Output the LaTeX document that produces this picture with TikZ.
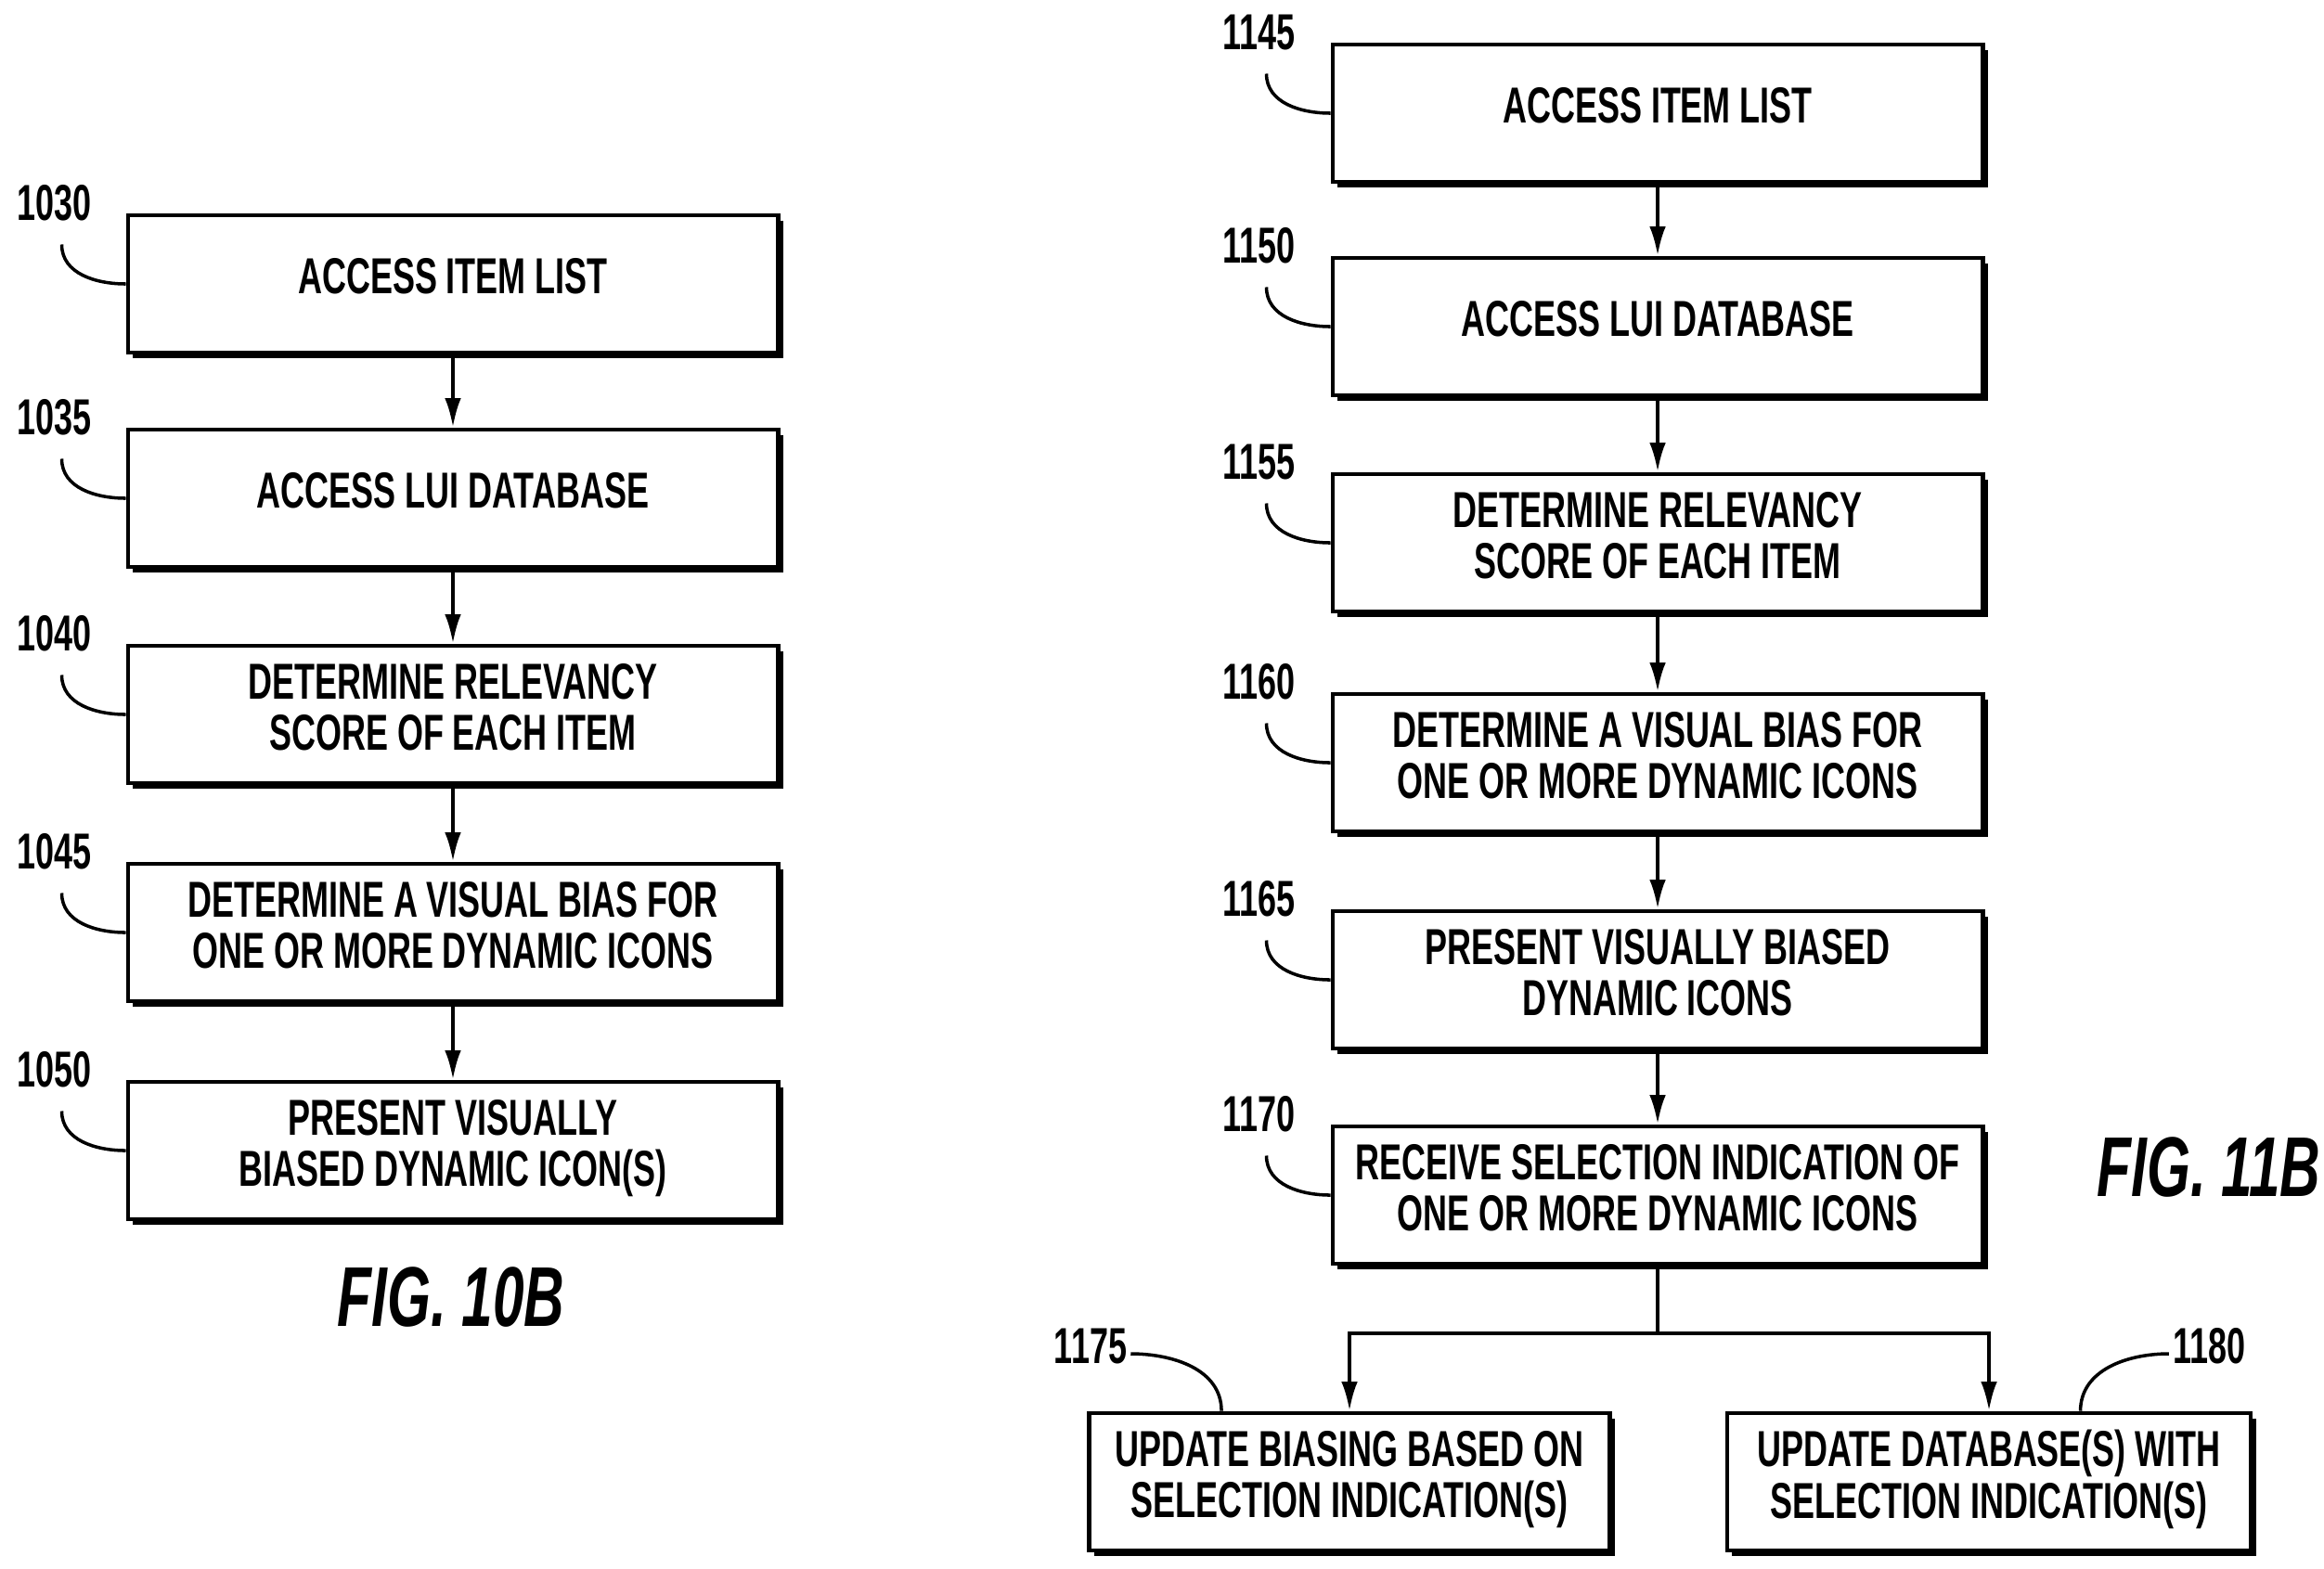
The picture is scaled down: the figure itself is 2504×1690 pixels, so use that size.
\documentclass[tikz,border=0pt]{standalone}
\usepackage{fontspec}
\setmainfont{Liberation Sans}
\usepackage{tikz}
\usetikzlibrary{positioning,calc,arrows.meta,shadows}
\newcommand{\cond}[1]{\scalebox{0.66}[1]{\begin{tabular}{@{}c@{}}#1\end{tabular}}}

\begin{document}
\begin{tikzpicture}[
    x=0.01cm, y=-0.01cm,
    box/.style={draw, line width=1.3pt, fill=white, align=center, inner sep=4pt,
        minimum width=7cm, minimum height=1.48cm, font=\fontsize{15.5}{15.5}\selectfont\bfseries,
        drop shadow={shadow xshift=1.6pt, shadow yshift=-1.6pt, fill=black, opacity=1}},
    tag/.style={font=\fontsize{15.5}{15.5}\selectfont\bfseries, inner sep=1pt},
    arrow/.style={-{Latex[length=9pt,width=5pt]}, line width=1.1pt},
    lead/.style={line width=1pt}
]
\useasboundingbox (0,0) rectangle (2504,1690);

% FIG. 10B
\node[box] (s1030) at (488,306) {\cond{ACCESS ITEM LIST}};
\node[box] (s1035) at (488,537) {\cond{ACCESS LUI DATABASE}};
\node[box] (s1040) at (488,770) {\cond{DETERMINE RELEVANCY\\SCORE OF EACH ITEM}};
\node[box] (s1045) at (488,1005) {\cond{DETERMINE A VISUAL BIAS FOR\\ONE OR MORE DYNAMIC ICONS}};
\node[box] (s1050) at (488,1240) {\cond{PRESENT VISUALLY\\BIASED DYNAMIC ICON(S)}};

% FIG. 11B
\node[box] (s1145) at (1786,122) {\cond{ACCESS ITEM LIST}};
\node[box] (s1150) at (1786,352) {\cond{ACCESS LUI DATABASE}};
\node[box] (s1155) at (1786,585) {\cond{DETERMINE RELEVANCY\\SCORE OF EACH ITEM}};
\node[box] (s1160) at (1786,822) {\cond{DETERMINE A VISUAL BIAS FOR\\ONE OR MORE DYNAMIC ICONS}};
\node[box] (s1165) at (1786,1056) {\cond{PRESENT VISUALLY BIASED\\DYNAMIC ICONS}};
\node[box] (s1170) at (1786,1288) {\cond{RECEIVE SELECTION INDICATION OF\\ONE OR MORE DYNAMIC ICONS}};
\node[box, minimum width=5.61cm] (s1175) at (1454,1597) {\cond{UPDATE BIASING BASED ON\\SELECTION INDICATION(S)}};
\node[box, minimum width=5.64cm] (s1180) at (2143,1597) {\cond{UPDATE DATABASE(S) WITH\\SELECTION INDICATION(S)}};

% flow
\foreach \a/\b in {1030/1035,1035/1040,1040/1045,1045/1050,
                   1145/1150,1150/1155,1155/1160,1160/1165,1165/1170}
    \draw[arrow] (s\a) -- (s\b);
\coordinate (split) at ($(s1170.south)+(0,73)$);
\draw[line width=1.1pt] (s1170.south) -- (split);
\draw[arrow] (split) -| (s1175.north);
\draw[arrow] (split) -| (s1180.north);

% reference numerals
\foreach \s in {1030,1035,1040,1045,1050,1145,1150,1155,1160,1165,1170}{
    \node[tag] (t\s) at ($(s\s.west)+(-77,-79)$) {\cond{\s}};
    \draw[lead] ($(t\s.south)+(8,5)$) to[out=-90, in=180] (s\s.west);
}
\node[tag] (t1175) at (1175,1459) {\cond{1175}};
\draw[lead] (t1175.east) to[out=0, in=90] ($(s1175.north west)+(145,0)$);
\node[tag] (t1180) at (2380,1459) {\cond{1180}};
\draw[lead] (t1180.west) to[out=180, in=90] ($(s1180.north west)+(383,0)$);

% figure captions
\node[font=\fontsize{26}{26}\selectfont\bfseries\itshape] (fig10) at (486,1411) {\cond{FIG. 10B}};
\node[font=\fontsize{26}{26}\selectfont\bfseries\itshape] (fig11) at (2380,1271) {\cond{FIG. 11B}};
\end{tikzpicture}
\end{document}
